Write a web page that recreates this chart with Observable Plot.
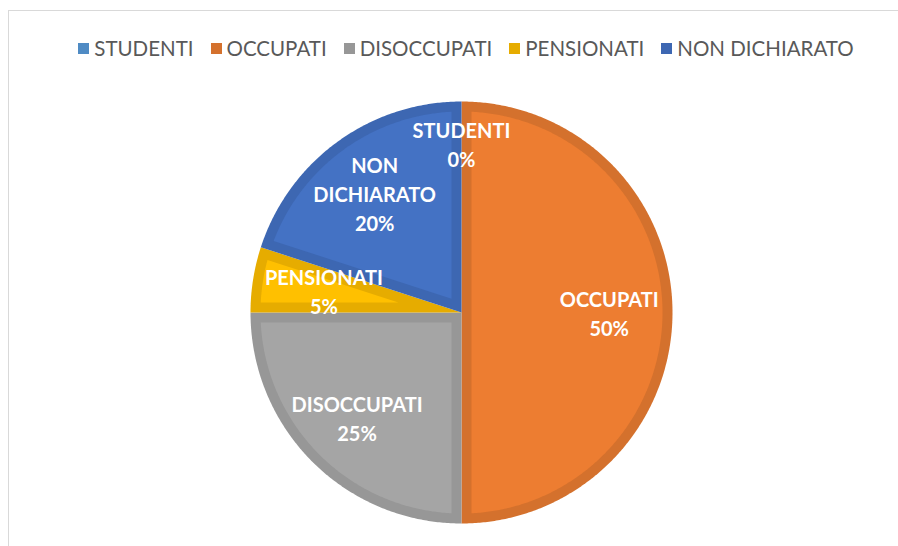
<!DOCTYPE html>
<html>
<head>
<meta charset="utf-8">
<script src="https://cdn.jsdelivr.net/npm/d3@7"></script>
<script src="https://cdn.jsdelivr.net/npm/@observablehq/plot@0.6"></script>
<style>
  html, body { margin: 0; padding: 0; background: #fff; }
  #wrap { position: relative; width: 898px; height: 546px; overflow: hidden; font-family: "Lato", "Open Sans", sans-serif; }
  #frame { position: absolute; left: 8px; top: 10px; width: 900px; height: 560px; border-left: 1px solid #d9d9d9; border-top: 1px solid #d9d9d9; }
  #legend { position: absolute; left: 0; top: 35px; width: 898px; height: 26px; display: flex; justify-content: center; align-items: center; gap: 17px; font-size: 20.5px; color: #595959; padding-left: 34px; box-sizing: border-box; }
  #legend .item { display: flex; align-items: center; gap: 5px; white-space: nowrap; }
  #legend .sw { width: 11px; height: 11px; display: inline-block; }
  #chart { position: absolute; left: 0; top: 80px; }
</style>
</head>
<body>
<div id="wrap">
  <div id="frame"></div>
  <div id="legend"></div>
  <div id="chart"></div>
</div>
<script>
// ---- data ----
const categories = ["STUDENTI", "OCCUPATI", "DISOCCUPATI", "PENSIONATI", "NON DICHIARATO"];
const values = [0, 50, 25, 5, 20];
const fillColors = ["#5B9BD5", "#ED7D31", "#A5A5A5", "#FFC000", "#4472C4"];
const borderColors = ["#4F8BC4", "#D4712D", "#979797", "#E6AC00", "#3D67B2"];

// ---- legend ----
const legend = d3.select("#legend");
categories.forEach((c, i) => {
  const it = legend.append("div").attr("class", "item");
  it.append("span").attr("class", "sw").style("background", borderColors[i]);
  it.append("span").text(c);
});

// ---- geometry derived from data ----
const R = 211;                 // pixel radius
const ring = 10 / R;           // border thickness in radius units
const total = d3.sum(values);
let cum = 0;
const slices = categories.map((c, i) => {
  const a0 = cum / total * 2 * Math.PI;
  cum += values[i];
  const a1 = cum / total * 2 * Math.PI;
  return {name: c, value: values[i], a0, a1, fill: fillColors[i], border: borderColors[i]};
});

function arcPts(a0, a1, r) {
  const n = Math.max(2, Math.ceil((a1 - a0) / (Math.PI / 360)));
  const pts = [];
  for (let k = 0; k <= n; k++) {
    const a = a0 + (a1 - a0) * k / n;
    pts.push({x: Math.sin(a) * r, y: Math.cos(a) * r});
  }
  return pts;
}
function outerPoly(s) {
  return [{x: 0, y: 0}, ...arcPts(s.a0, s.a1, 1)];
}
function innerPoly(s) {
  const th = s.a1 - s.a0;
  const ri = 1 - ring;
  const dl = Math.asin(ring / ri);
  const pts = [];
  if (th < Math.PI - 1e-6) {
    const m = (s.a0 + s.a1) / 2, dv = ring / Math.sin(th / 2);
    pts.push({x: Math.sin(m) * dv, y: Math.cos(m) * dv});
  }
  return pts.concat(arcPts(s.a0 + dl, s.a1 - dl, ri));
}

const marks = [];
slices.filter(s => s.value > 0).forEach(s => {
  marks.push(Plot.line(outerPoly(s), {x: "x", y: "y", fill: s.border, stroke: "none"}));
});
slices.filter(s => s.value > 0).forEach(s => {
  marks.push(Plot.line(innerPoly(s), {x: "x", y: "y", fill: s.fill, stroke: "none"}));
});

const labels = slices.map(s => {
  const m = (s.a0 + s.a1) / 2;
  const r = s.value === 0 ? 0.8 : (s.value < 10 ? 0.66 : 0.7);
  const pct = Math.round(s.value / total * 100) + "%";
  return {x: Math.sin(m) * r, y: Math.cos(m) * r, text: s.name.split(" ").join("\n") + "\n" + pct};
});
marks.push(Plot.text(labels, {
  x: "x", y: "y", text: "text", fill: "white", fontSize: 20, fontWeight: "bold",
  fontFamily: "Lato, 'Open Sans', sans-serif", lineHeight: 1.45
}));

const plot = Plot.plot({
  width: 898, height: 466,
  marginLeft: 250, marginRight: 226, marginTop: 21, marginBottom: 23,
  x: {domain: [-1, 1], axis: null},
  y: {domain: [-1, 1], axis: null},
  style: {background: "transparent", overflow: "visible"},
  marks
});
document.getElementById("chart").appendChild(plot);
</script>
</body>
</html>
